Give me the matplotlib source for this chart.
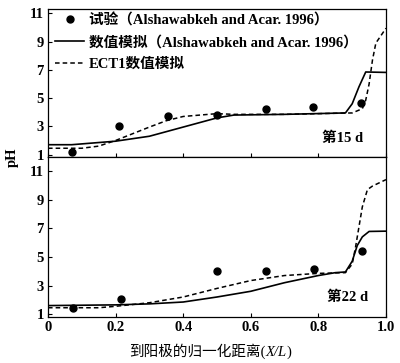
import matplotlib
matplotlib.use('Agg')
import matplotlib.pyplot as plt

plt.rcParams['font.family'] = ['Liberation Serif', 'Noto Sans CJK SC']
plt.rcParams['font.weight'] = 'bold'

# day 15 data
exp15_x = [0.07, 0.21, 0.355, 0.50, 0.645, 0.785, 0.925]
exp15_y = [1.15, 3.0, 3.7, 3.8, 4.2, 4.35, 4.65]
sim15_x = [0, 0.07, 0.2, 0.3, 0.4, 0.5, 0.55, 0.7, 0.88, 0.9, 0.92, 0.94, 1.0]
sim15_y = [1.7, 1.7, 1.95, 2.3, 2.95, 3.6, 3.8, 3.85, 3.95, 4.6, 5.8, 6.85, 6.82]
ect15_x = [0, 0.1, 0.15, 0.2, 0.3, 0.35, 0.4, 0.5, 0.55, 0.7, 0.9, 0.93, 0.94,
           0.95, 0.96, 0.97, 0.99, 1.0]
ect15_y = [1.45, 1.45, 1.6, 2.0, 2.95, 3.4, 3.7, 3.9, 3.85, 3.85, 3.95, 4.25,
           4.85, 6.0, 7.7, 8.9, 9.6, 9.95]

# day 22 data
exp22_x = [0.073, 0.215, 0.50, 0.645, 0.787, 0.93]
exp22_y = [1.45, 2.05, 4.0, 4.05, 4.15, 5.4]
sim22_x = [0, 0.2, 0.3, 0.4, 0.5, 0.6, 0.7, 0.8, 0.85, 0.88, 0.9, 0.915, 0.93,
           0.95, 1.0]
sim22_y = [1.6, 1.65, 1.72, 1.85, 2.2, 2.6, 3.2, 3.7, 3.9, 3.95, 4.7, 5.8, 6.4,
           6.78, 6.8]
ect22_x = [0, 0.15, 0.2, 0.3, 0.4, 0.5, 0.6, 0.7, 0.8, 0.88, 0.9, 0.91, 0.92,
           0.93, 0.945, 0.96, 1.0]
ect22_y = [1.45, 1.45, 1.55, 1.8, 2.2, 2.8, 3.35, 3.7, 3.85, 3.9, 4.5, 5.7,
           7.1, 8.5, 9.7, 9.95, 10.4]

fig = plt.figure(figsize=(4.0, 3.63), dpi=100)
ax1 = fig.add_axes([0.12, 0.5675, 0.845, 0.4065])
ax2 = fig.add_axes([0.12, 0.127, 0.845, 0.4405], sharex=ax1)

ax1.plot(exp15_x, exp15_y, 'o', color='black', markersize=5,
         label='试验（Alshawabkeh and Acar. 1996）')
ax1.plot(sim15_x, sim15_y, '-', color='black', lw=1.2,
         label='数值模拟（Alshawabkeh and Acar. 1996）')
ax1.plot(ect15_x, ect15_y, '--', color='black', lw=1.1, dashes=(3, 2),
         label='ECT1数值模拟')
ax1.text(0.81, 2.15, '第15 d', fontsize=10.5, va='center')
ax1.set_ylim(0.83, 11.28)
ax1.set_yticks([1, 3, 5, 7, 9, 11])
leg = ax1.legend(loc='upper left', frameon=False, fontsize=10.5,
                 handlelength=2.0, handletextpad=0.3, labelspacing=0.55,
                 borderaxespad=0.1, bbox_to_anchor=(0.0, 1.025))
ax1.tick_params(labelbottom=False)

ax2.plot(exp22_x, exp22_y, 'o', color='black', markersize=5)
ax2.plot(sim22_x, sim22_y, '-', color='black', lw=1.2)
ax2.plot(ect22_x, ect22_y, '--', color='black', lw=1.1, dashes=(3, 2))
ax2.text(0.825, 2.2, '第22 d', fontsize=10.5, va='center')
ax2.set_ylim(0.81, 11.98)
ax2.set_yticks([1, 3, 5, 7, 9, 11])
ax2.set_xlim(0, 1.0)
ax2.set_xticks([0, 0.2, 0.4, 0.6, 0.8, 1.0])
ax2.set_xticklabels(['0', '0.2', '0.4', '0.6', '0.8', '1.0'])

for ax in (ax1, ax2):
    ax.tick_params(direction='in', length=3, width=0.8, labelsize=10.5, pad=3)
    for s in ax.spines.values():
        s.set_linewidth(0.9)

fig.text(0.03, 0.5675, 'pH', rotation=90, va='center', ha='center',
         fontsize=10.5)

# x label in pieces so X/L can be italic
renderer = fig.canvas.get_renderer()
xl_pos = 0.322
xl_y = 0.02
parts = [('到阳极的归一化距离(', 'normal', 'normal'),
         ('X/L', 'italic', 'normal'),
         (')', 'normal', 'normal')]
for txt, st, wt in parts:
    t = fig.text(xl_pos, xl_y, txt, fontsize=10.5, style=st, weight=wt,
                 va='baseline', ha='left')
    bb = t.get_window_extent(renderer=renderer)
    xl_pos += bb.width / fig.bbox.width

fig.savefig('out.png', dpi=100)
